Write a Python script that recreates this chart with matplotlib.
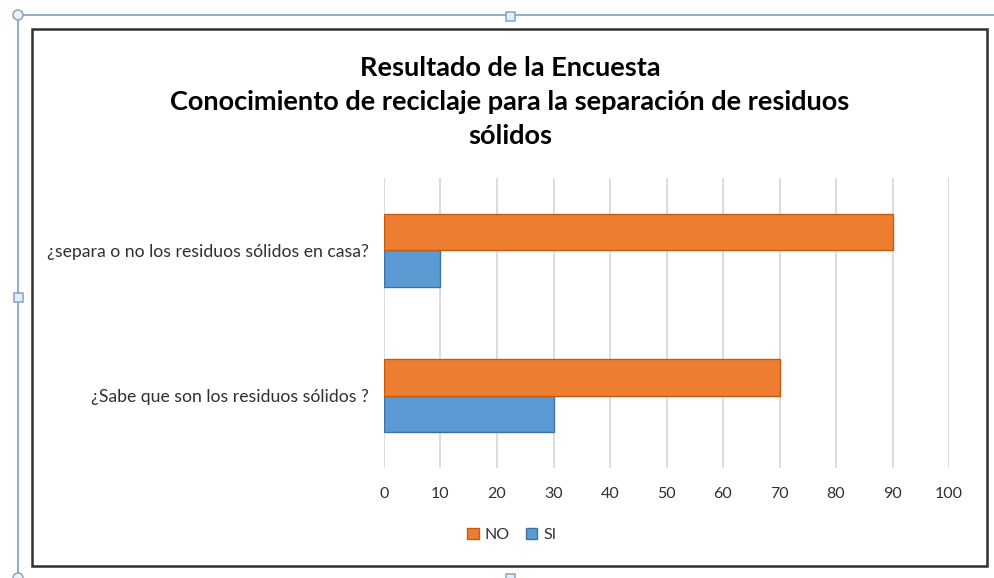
import matplotlib
matplotlib.use("Agg")
import matplotlib.pyplot as plt
from matplotlib.patches import Rectangle, Circle
import numpy as np

plt.rcParams['font.family'] = ['Lato', 'DejaVu Sans']

categories = ["¿Sabe que son los residuos sólidos ?", "¿separa o no los residuos sólidos en casa?"]
si_values = [30, 10]
no_values = [70, 90]
series_names = ["NO", "SI"]
x_ticks = [0, 10, 20, 30, 40, 50, 60, 70, 80, 90, 100]
title_text = "Resultado de la Encuesta\nConocimiento de reciclaje para la separación de residuos\nsólidos"

W, H = 995, 578
fig = plt.figure(figsize=(W / 100, H / 100), dpi=100)
fig.patch.set_facecolor("white")

# overlay for the frame decorations (pixel coordinates)
ov = fig.add_axes([0, 0, 1, 1], zorder=0)
ov.set_xlim(0, W)
ov.set_ylim(H, 0)
ov.axis("off")
ov.add_patch(Rectangle((32, 29), 955, 537, facecolor="white", edgecolor="#303030", lw=1.8))
blue = "#7f9cc4"
ov.plot([18, W], [15, 15], color=blue, lw=1.2)
ov.plot([18, 18], [15, H], color=blue, lw=1.2)
for (cx, cy) in [(18, 15), (18, 578)]:
    ov.add_patch(Circle((cx, cy), 5, facecolor="#eef3f8", edgecolor="#8aa3c4", lw=1.1, zorder=5))
for (cx, cy) in [(510, 16), (18, 297), (510, 578)]:
    ov.add_patch(Rectangle((cx - 4.5, cy - 4.5), 9, 9, facecolor="#dff0f8", edgecolor="#8aa3c4", lw=1.1, zorder=5))

ax = fig.add_axes([384 / W, 1 - 468 / H, (949 - 384) / W, (468 - 178) / H], zorder=1)
ax.patch.set_alpha(0)
y = np.arange(len(categories))
h = 0.25
ax.barh(y - h / 2, si_values, height=h, color="#5B9BD5", edgecolor="#41719C", lw=1.0, label="SI", zorder=3)
ax.barh(y + h / 2, no_values, height=h, color="#ED7D31", edgecolor="#C55A11", lw=1.0, label="NO", zorder=3)
ax.set_xlim(0, 100)
ax.set_ylim(-0.5, 1.5)
ax.set_xticks(x_ticks)
ax.set_xticklabels([str(v) for v in x_ticks])
ax.set_yticks(y)
ax.set_yticklabels(categories)
ax.xaxis.grid(True, color="#d9d9d9", lw=1.3, zorder=0)
ax.set_axisbelow(True)
for s in ax.spines.values():
    s.set_visible(False)
ax.tick_params(axis="both", length=0, labelcolor="#303030")
ax.tick_params(axis="x", pad=14, labelsize=11.5)
ax.tick_params(axis="y", pad=11, labelsize=12.7)

fig.text(510 / W, 1 - 102 / H, title_text, ha="center", va="center", fontsize=19.5,
         fontweight="bold", color="#000000", linespacing=1.5)

handles, labels = ax.get_legend_handles_labels()
order = [labels.index(n) for n in series_names]
leg = fig.legend([handles[i] for i in order], [labels[i] for i in order],
                 loc="center", bbox_to_anchor=(512 / W, 1 - 535 / H), ncol=2, frameon=False,
                 fontsize=11.5, handlelength=0.7, handleheight=0.7, handletextpad=0.4,
                 columnspacing=1.0, labelcolor="#303030")

fig.savefig("out.png", dpi=100)
